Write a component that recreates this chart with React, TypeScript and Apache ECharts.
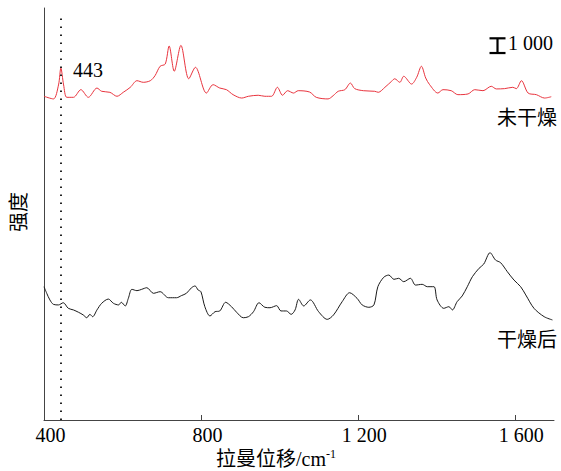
import React, { useEffect, useRef } from "react";
import * as echarts from "echarts";

// Raman shift (cm-1) and intensity
const redShift = [400, 424, 437, 443, 450, 458, 475, 494, 513, 535, 547, 568, 586, 602, 620, 637, 653, 671, 683, 696, 709, 719, 732, 749, 769, 786, 814, 831, 848, 865, 882, 904, 921, 946, 963, 980, 995, 1008, 1021, 1036, 1048, 1077, 1094, 1124, 1137, 1150, 1167, 1181, 1192, 1214, 1243, 1252, 1269, 1286, 1294, 1307, 1317, 1337, 1350, 1362, 1373, 1383, 1404, 1417, 1438, 1455, 1481, 1498, 1519, 1540, 1553, 1574, 1595, 1604, 1617, 1634, 1655, 1676, 1693];
const redIntensity = [22000, 21820, 22770, 23920, 22770, 21930, 21930, 22450, 21930, 22560, 22340, 22270, 22000, 22270, 22610, 23060, 22950, 23060, 23400, 24040, 24190, 25420, 23700, 25460, 23190, 23970, 22220, 22790, 22560, 22450, 22110, 21880, 22000, 22070, 22000, 22000, 22610, 22070, 22380, 22220, 22380, 22290, 21930, 21820, 22040, 22340, 22450, 22900, 22520, 22380, 22340, 22270, 22610, 23020, 23190, 22950, 23360, 22830, 23290, 24040, 23240, 22790, 22220, 22450, 22380, 22110, 22160, 22450, 22380, 22680, 22500, 22520, 22610, 22520, 23060, 22220, 22110, 21880, 21970];

const blackShift = [400, 407, 415, 424, 437, 449, 462, 475, 488, 500, 509, 517, 524, 535, 547, 564, 577, 590, 597, 607, 615, 624, 637, 649, 662, 679, 696, 717, 738, 750, 763, 776, 785, 793, 800, 810, 823, 836, 848, 863, 878, 891, 908, 921, 934, 948, 963, 976, 993, 1004, 1018, 1030, 1040, 1049, 1062, 1079, 1100, 1122, 1138, 1160, 1179, 1198, 1211, 1228, 1241, 1251, 1266, 1279, 1292, 1304, 1317, 1334, 1347, 1364, 1377, 1394, 1402, 1419, 1432, 1441, 1453, 1466, 1479, 1492, 1509, 1521, 1537, 1551, 1564, 1581, 1598, 1615, 1628, 1649, 1675, 1696];
const blackIntensity = [9060, 8610, 8160, 7860, 7820, 7970, 7590, 7480, 7320, 7140, 6950, 7180, 7020, 7480, 7930, 8220, 7930, 7820, 8000, 7750, 8270, 8880, 8790, 8880, 8990, 8610, 8720, 8310, 8310, 8450, 8610, 8990, 9110, 8830, 8720, 7700, 7070, 7360, 7410, 8000, 7700, 7320, 6950, 7020, 7360, 7970, 7660, 7630, 7770, 7410, 7410, 7180, 7480, 8200, 7750, 8160, 7360, 6840, 7140, 8040, 8650, 8270, 7820, 7660, 7820, 9060, 9700, 9850, 9560, 9630, 9400, 9630, 9170, 9220, 9060, 9060, 8160, 7590, 7700, 7480, 8040, 8430, 9060, 9740, 10310, 10600, 11370, 10870, 10690, 10080, 9510, 9060, 8500, 7590, 7020, 6800];

const xTicks = [400, 800, 1200, 1600];
const xMin = 400;
const xMax = 1700;
const yMin = 0;
const yMax = 28000;

const peakShift = 443;
const peakLineTop = 27390;
const peakLabel = "443";

const scaleBarShift = 1556;
const scaleBarBase = 24940;
const scaleBarLength = 1000;
const scaleBarLabel = "1 000";

const redName = "未干燥";
const blackName = "干燥后";
const xName = "拉曼位移/cm";
const xNameSup = "-1";
const yName = "强度";

const SERIF = "'Liberation Serif', 'Times New Roman', 'Noto Sans CJK SC', serif";

function fmtTick(v: number): string {
  if (v >= 1000) {
    const th = Math.floor(v / 1000);
    const rest = String(v % 1000).padStart(3, "0");
    return th + " " + rest;
  }
  return String(v);
}

export default function App() {
  const ref = useRef<HTMLDivElement>(null);

  useEffect(() => {
    if (!ref.current) return;
    const chart = echarts.init(ref.current, undefined, { renderer: "svg" });

    const redData = redShift.map((x, i) => [x, redIntensity[i]]);
    const blackData = blackShift.map((x, i) => [x, blackIntensity[i]]);

    const option: any = {
      animation: false,
      backgroundColor: "#ffffff",
      grid: { left: 44, right: 7, top: 8, bottom: 51, containLabel: false },
      xAxis: {
        type: "value",
        min: xMin,
        max: xMax,
        interval: 400,
        axisLine: { show: true, lineStyle: { color: "#444", width: 1 } },
        axisTick: {
          show: true,
          inside: true,
          length: 5,
          customValues: xTicks.slice(1),
          lineStyle: { color: "#444" },
        },
        axisLabel: {
          show: true,
          customValues: xTicks,
          formatter: (v: number) => fmtTick(v),
          fontSize: 20,
          fontFamily: SERIF,
          color: "#000",
          margin: 5,
          padding: [0, 0, 0, 13],
        },
        splitLine: { show: false },
      },
      yAxis: {
        type: "value",
        min: yMin,
        max: yMax,
        axisLine: { show: true, lineStyle: { color: "#444", width: 1 } },
        axisTick: { show: false },
        axisLabel: { show: false },
        splitLine: { show: false },
      },
      series: [
        {
          type: "line",
          name: redName,
          data: redData,
          showSymbol: false,
          smooth: 0.3,
          lineStyle: { color: "#e8343e", width: 1 },
          itemStyle: { color: "#e8343e" },
          markLine: {
            silent: true,
            symbol: ["none", "none"],
            label: { show: false },
            lineStyle: { color: "#222", width: 2, type: [1.5, 6.5] },
            data: [[{ coord: [peakShift, yMin] }, { coord: [peakShift, peakLineTop] }]],
          },
        },
        {
          type: "line",
          name: blackName,
          data: blackData,
          showSymbol: false,
          smooth: 0.3,
          lineStyle: { color: "#1a1a1a", width: 1 },
          itemStyle: { color: "#1a1a1a" },
        },
        {
          type: "custom",
          name: "scale",
          data: [[scaleBarShift, scaleBarBase, scaleBarBase + scaleBarLength]],
          renderItem: (params: any, api: any) => {
            const bottom = api.coord([api.value(0), api.value(1)]);
            const top = api.coord([api.value(0), api.value(2)]);
            const half = 8;
            const style = { stroke: "#000", lineWidth: 2.2 };
            return {
              type: "group",
              children: [
                { type: "line", shape: { x1: bottom[0], y1: bottom[1], x2: top[0], y2: top[1] }, style },
                { type: "line", shape: { x1: bottom[0] - half, y1: bottom[1], x2: bottom[0] + half, y2: bottom[1] }, style },
                { type: "line", shape: { x1: top[0] - half, y1: top[1], x2: top[0] + half, y2: top[1] }, style },
              ],
            };
          },
        },
      ],
      graphic: [
        {
          type: "text",
          style: {
            text: peakLabel, x: 73, y: 70,
            font: "20px " + SERIF, fill: "#000",
            align: "left", verticalAlign: "middle",
            textAlign: "left", textVerticalAlign: "middle",
          },
        },
        {
          type: "text",
          style: {
            text: scaleBarLabel, x: 508, y: 43,
            font: "20px " + SERIF, fill: "#000",
            align: "left", verticalAlign: "middle",
            textAlign: "left", textVerticalAlign: "middle",
          },
        },
        {
          type: "text",
          style: {
            text: redName, x: 527, y: 118,
            font: "20px " + SERIF, fill: "#000",
            align: "center", verticalAlign: "middle",
            textAlign: "center", textVerticalAlign: "middle",
          },
        },
        {
          type: "text",
          style: {
            text: blackName, x: 527, y: 340,
            font: "20px " + SERIF, fill: "#000",
            align: "center", verticalAlign: "middle",
            textAlign: "center", textVerticalAlign: "middle",
          },
        },
        {
          type: "text",
          x: 19,
          y: 212,
          rotation: Math.PI / 2,
          style: {
            text: yName, x: 0, y: 0,
            font: "20px " + SERIF, fill: "#000",
            align: "center", verticalAlign: "middle",
            textAlign: "center", textVerticalAlign: "middle",
          },
        },
        {
          type: "text",
          style: {
            text: xName + "{sup|" + xNameSup + "}", x: 216, y: 459,
            font: "20px " + SERIF, fill: "#000",
            align: "left", verticalAlign: "middle",
            textAlign: "left", textVerticalAlign: "middle",
            rich: {
              sup: { fontSize: 12, fontFamily: SERIF, fill: "#000", verticalAlign: "top", lineHeight: 22 },
            },
          },
        },
      ],
    };

    chart.setOption(option);
    return () => chart.dispose();
  }, []);

  return (
    <div
      ref={ref}
      style={{ position: "fixed", left: 0, top: 0, width: 561, height: 471, background: "#fff" }}
    />
  );
}
